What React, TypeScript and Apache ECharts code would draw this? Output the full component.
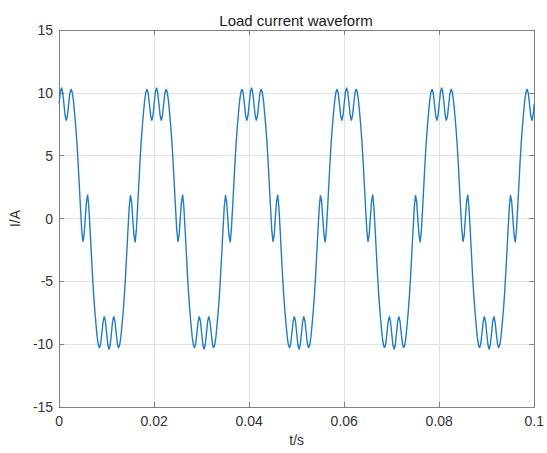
import React, { useEffect, useRef } from "react";
import * as echarts from "echarts";

// Sampling step of the waveform (seconds): one value every 0.25 ms
const sampleStep = 0.00025;

// Load current (A), one array per 20 ms cycle
const cycle1 = [
  9.15, 10.05, 10.4, 10.05, 9.15, 8.2, 7.8, 8.2, 9.1, 9.95,
  10.3, 10.05, 9.4, 8.4, 7.3, 6.0, 4.4, 2.6, 0.8, -0.9,
  -1.85, -1.35, 0.05, 1.35, 1.9, 0.9, -0.8, -2.6, -4.4, -6.0,
  -7.3, -8.4, -9.4, -10.05, -10.3, -9.95, -9.1, -8.2, -7.8, -8.2,
  -9.15, -10.05, -10.4, -10.05, -9.15, -8.2, -7.8, -8.2, -9.1, -9.95,
  -10.3, -10.05, -9.4, -8.4, -7.3, -6.0, -4.4, -2.6, -0.8, 0.9,
  1.85, 1.35, -0.05, -1.35, -1.9, -0.9, 0.8, 2.6, 4.4, 6.0,
  7.3, 8.4, 9.4, 10.05, 10.3, 9.95, 9.1, 8.2, 7.8, 8.2,
];
const cycle2 = [
  9.15, 10.05, 10.4, 10.05, 9.15, 8.2, 7.8, 8.2, 9.1, 9.95,
  10.3, 10.05, 9.4, 8.4, 7.3, 6.0, 4.4, 2.6, 0.8, -0.9,
  -1.85, -1.35, 0.05, 1.35, 1.9, 0.9, -0.8, -2.6, -4.4, -6.0,
  -7.3, -8.4, -9.4, -10.05, -10.3, -9.95, -9.1, -8.2, -7.8, -8.2,
  -9.15, -10.05, -10.4, -10.05, -9.15, -8.2, -7.8, -8.2, -9.1, -9.95,
  -10.3, -10.05, -9.4, -8.4, -7.3, -6.0, -4.4, -2.6, -0.8, 0.9,
  1.85, 1.35, -0.05, -1.35, -1.9, -0.9, 0.8, 2.6, 4.4, 6.0,
  7.3, 8.4, 9.4, 10.05, 10.3, 9.95, 9.1, 8.2, 7.8, 8.2,
];
const cycle3 = [
  9.15, 10.05, 10.4, 10.05, 9.15, 8.2, 7.8, 8.2, 9.1, 9.95,
  10.3, 10.05, 9.4, 8.4, 7.3, 6.0, 4.4, 2.6, 0.8, -0.9,
  -1.85, -1.35, 0.05, 1.35, 1.9, 0.9, -0.8, -2.6, -4.4, -6.0,
  -7.3, -8.4, -9.4, -10.05, -10.3, -9.95, -9.1, -8.2, -7.8, -8.2,
  -9.15, -10.05, -10.4, -10.05, -9.15, -8.2, -7.8, -8.2, -9.1, -9.95,
  -10.3, -10.05, -9.4, -8.4, -7.3, -6.0, -4.4, -2.6, -0.8, 0.9,
  1.85, 1.35, -0.05, -1.35, -1.9, -0.9, 0.8, 2.6, 4.4, 6.0,
  7.3, 8.4, 9.4, 10.05, 10.3, 9.95, 9.1, 8.2, 7.8, 8.2,
];
const cycle4 = [
  9.15, 10.05, 10.4, 10.05, 9.15, 8.2, 7.8, 8.2, 9.1, 9.95,
  10.3, 10.05, 9.4, 8.4, 7.3, 6.0, 4.4, 2.6, 0.8, -0.9,
  -1.85, -1.35, 0.05, 1.35, 1.9, 0.9, -0.8, -2.6, -4.4, -6.0,
  -7.3, -8.4, -9.4, -10.05, -10.3, -9.95, -9.1, -8.2, -7.8, -8.2,
  -9.15, -10.05, -10.4, -10.05, -9.15, -8.2, -7.8, -8.2, -9.1, -9.95,
  -10.3, -10.05, -9.4, -8.4, -7.3, -6.0, -4.4, -2.6, -0.8, 0.9,
  1.85, 1.35, -0.05, -1.35, -1.9, -0.9, 0.8, 2.6, 4.4, 6.0,
  7.3, 8.4, 9.4, 10.05, 10.3, 9.95, 9.1, 8.2, 7.8, 8.2,
];
const cycle5 = [
  9.15, 10.05, 10.4, 10.05, 9.15, 8.2, 7.8, 8.2, 9.1, 9.95,
  10.3, 10.05, 9.4, 8.4, 7.3, 6.0, 4.4, 2.6, 0.8, -0.9,
  -1.85, -1.35, 0.05, 1.35, 1.9, 0.9, -0.8, -2.6, -4.4, -6.0,
  -7.3, -8.4, -9.4, -10.05, -10.3, -9.95, -9.1, -8.2, -7.8, -8.2,
  -9.15, -10.05, -10.4, -10.05, -9.15, -8.2, -7.8, -8.2, -9.1, -9.95,
  -10.3, -10.05, -9.4, -8.4, -7.3, -6.0, -4.4, -2.6, -0.8, 0.9,
  1.85, 1.35, -0.05, -1.35, -1.9, -0.9, 0.8, 2.6, 4.4, 6.0,
  7.3, 8.4, 9.4, 10.05, 10.3, 9.95, 9.1, 8.2, 7.8, 8.2,
];
const finalValue = [9.15];

// Axis ticks
const xTicks = [0, 0.02, 0.04, 0.06, 0.08, 0.1];
const yTicks = [-15, -10, -5, 0, 5, 10, 15];

const titleText = "Load current waveform";
const xName = "t/s";
const yName = "I/A";

const FONT = "'Liberation Sans', Arial, Helvetica, sans-serif";
const LINE_COLOR = "#1f7dc4";
const AXIS_COLOR = "#808080";
const TEXT_COLOR = "#333333";
const GRID_COLOR = "#e2e2e2";

export default function App() {
  const ref = useRef<HTMLDivElement>(null);

  useEffect(() => {
    if (!ref.current) return;
    const chart = echarts.init(ref.current, undefined, { renderer: "svg" });

    const values = [...cycle1, ...cycle2, ...cycle3, ...cycle4, ...cycle5, ...finalValue];
    const data = values.map((v, i) => [i * sampleStep, v]);

    const xMin = xTicks[0];
    const xMax = xTicks[xTicks.length - 1];
    const xInt = xTicks[1] - xTicks[0];
    const yMin = yTicks[0];
    const yMax = yTicks[yTicks.length - 1];
    const yInt = yTicks[1] - yTicks[0];

    const fmtX = (v: number) => String(parseFloat(v.toFixed(3)));

    chart.setOption({
      animation: false,
      backgroundColor: "#ffffff",
      title: {
        text: titleText,
        left: 291,
        top: 8,
        textAlign: "center",
        textStyle: {
          fontFamily: FONT,
          fontSize: 15,
          fontWeight: "normal",
          color: "#1a1a1a",
        },
      },
      grid: { left: 58, right: 10, top: 30, bottom: 46, containLabel: false },
      xAxis: [
        {
          type: "value",
          min: xMin,
          max: xMax,
          interval: xInt,
          name: xName,
          nameLocation: "middle",
          nameGap: 21,
          nameTextStyle: { fontFamily: FONT, fontSize: 14, color: TEXT_COLOR },
          axisLine: { show: true, onZero: false, lineStyle: { color: AXIS_COLOR, width: 1 } },
          axisTick: { show: true, inside: true, length: 5, lineStyle: { color: AXIS_COLOR } },
          axisLabel: {
            fontFamily: FONT,
            fontSize: 14,
            color: TEXT_COLOR,
            margin: 7,
            showMinLabel: true,
            showMaxLabel: true,
            formatter: fmtX,
          },
          splitLine: { show: true, lineStyle: { color: GRID_COLOR, width: 1 } },
        },
        {
          type: "value",
          position: "top",
          min: xMin,
          max: xMax,
          interval: xInt,
          axisLine: { show: true, onZero: false, lineStyle: { color: AXIS_COLOR, width: 1 } },
          axisTick: { show: true, inside: true, length: 5, lineStyle: { color: AXIS_COLOR } },
          axisLabel: { show: false },
          splitLine: { show: false },
        },
      ],
      yAxis: [
        {
          type: "value",
          min: yMin,
          max: yMax,
          interval: yInt,
          name: yName,
          nameLocation: "middle",
          nameGap: 36,
          nameTextStyle: { fontFamily: FONT, fontSize: 14, color: TEXT_COLOR },
          axisLine: { show: true, onZero: false, lineStyle: { color: AXIS_COLOR, width: 1 } },
          axisTick: { show: true, inside: true, length: 5, lineStyle: { color: AXIS_COLOR } },
          axisLabel: {
            fontFamily: FONT,
            fontSize: 14,
            color: TEXT_COLOR,
            margin: 6,
            showMinLabel: true,
            showMaxLabel: true,
          },
          splitLine: { show: true, lineStyle: { color: GRID_COLOR, width: 1 } },
        },
        {
          type: "value",
          position: "right",
          min: yMin,
          max: yMax,
          interval: yInt,
          axisLine: { show: true, onZero: false, lineStyle: { color: AXIS_COLOR, width: 1 } },
          axisTick: { show: true, inside: true, length: 5, lineStyle: { color: AXIS_COLOR } },
          axisLabel: { show: false },
          splitLine: { show: false },
        },
      ],
      series: [
        {
          type: "line",
          xAxisIndex: 0,
          yAxisIndex: 0,
          data,
          showSymbol: false,
          symbol: "none",
          smooth: false,
          lineStyle: { color: LINE_COLOR, width: 1.4 },
          z: 3,
        },
      ],
    });

    return () => {
      chart.dispose();
    };
  }, []);

  return (
    <div
      ref={ref}
      style={{ position: "fixed", left: 0, top: 0, width: 547, height: 453, background: "#fff" }}
    />
  );
}
